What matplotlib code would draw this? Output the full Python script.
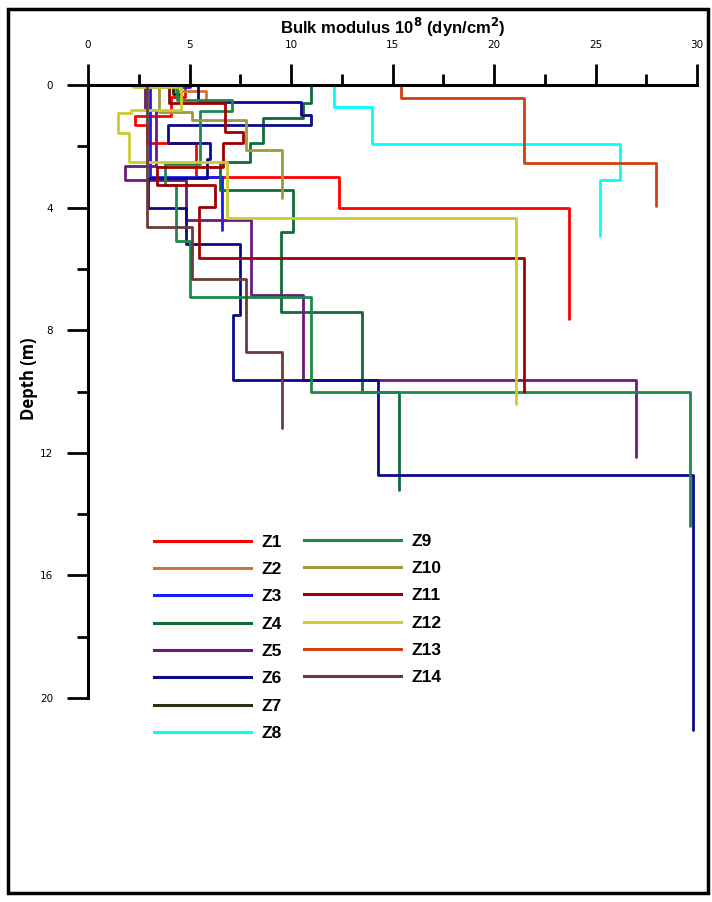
import numpy as np
import matplotlib
matplotlib.use("Agg")
import matplotlib.pyplot as plt
from matplotlib.patches import Rectangle
from matplotlib.lines import Line2D

# layer moduli (10^8 dyn/cm2) and layer boundary depths (m) for each zone
z1_mod = [4.8, 4.1, 2.3, 2.9, 5.3, 12.35, 23.7]
z1_dep = [0, 0.4, 1.0, 1.3, 1.9, 2.99, 4.0, 7.63]
z2_mod = [4.3, 5.8]
z2_dep = [0, 0.2, 0.55]
z3_mod = [5.0, 3.05, 6.58]
z3_dep = [0, 0.05, 3.0, 4.73]
z4_mod = [11.0, 10.6, 8.6, 8.0, 6.5, 10.1, 9.5, 13.5, 15.3]
z4_dep = [0, 0.6, 1.08, 1.9, 2.5, 3.43, 4.79, 7.4, 10.0, 13.2]
z5_mod = [2.8, 3.35, 1.8, 4.85, 8.05, 10.57, 27.0]
z5_dep = [0, 0.8, 2.64, 3.1, 4.4, 6.85, 9.62, 12.13]
z6_mod = [5.4, 10.5, 11.0, 3.95, 6.0, 5.85, 2.95, 4.85, 7.5, 7.15, 14.3, 29.8]
z6_dep = [0, 0.54, 0.98, 1.3, 1.9, 2.4, 3.03, 4.0, 5.2, 7.5, 9.62, 12.72, 21.05]
z7_mod = [4.2, 4.6]
z7_dep = [0, 0.3, 0.5]
z8_mod = [12.1, 14.0, 26.2, 25.2]
z8_dep = [0, 0.72, 1.91, 3.10, 4.93]
z9_mod = [4.4, 7.1, 5.5, 3.8, 4.35, 5.0, 11.0, 29.65]
z9_dep = [0, 0.5, 0.85, 2.58, 3.26, 5.1, 6.9, 10.0, 14.4]
z10_mod = [3.5, 5.1, 7.77, 9.54]
z10_dep = [0, 0.87, 1.14, 2.12, 3.7]
z11_mod = [4.0, 6.75, 7.65, 6.65, 3.4, 6.25, 5.45, 21.5]
z11_dep = [0, 0.6, 1.52, 1.9, 2.67, 3.26, 3.97, 5.63, 10.0]
z12_mod = [2.2, 4.6, 2.1, 1.5, 2.0, 6.83, 21.1]
z12_dep = [0, 0.05, 0.8, 0.92, 1.57, 2.5, 4.33, 10.4]
z13_mod = [1.2, 15.4, 21.5, 28.0]
z13_dep = [0, 0, 0.41, 2.53, 3.94]
z14_mod = [2.9, 5.1, 7.8, 9.54]
z14_dep = [0, 4.62, 6.33, 8.7, 11.2]

names = ["Z1", "Z2", "Z3", "Z4", "Z5", "Z6", "Z7",
         "Z8", "Z9", "Z10", "Z11", "Z12", "Z13", "Z14"]
mods = [z1_mod, z2_mod, z3_mod, z4_mod, z5_mod, z6_mod, z7_mod,
        z8_mod, z9_mod, z10_mod, z11_mod, z12_mod, z13_mod, z14_mod]
deps = [z1_dep, z2_dep, z3_dep, z4_dep, z5_dep, z6_dep, z7_dep,
        z8_dep, z9_dep, z10_dep, z11_dep, z12_dep, z13_dep, z14_dep]
colors = ["#ff0000", "#d2733c", "#1a1aff", "#106b36", "#6a1a7a", "#0a0a8a",
          "#2e2e10", "#00ffff", "#1e874b", "#9c9c3c", "#a00000", "#cccc33",
          "#d04010", "#6b3b3b"]


def profile(mod, dep):
    x = np.repeat(mod, 2)
    y = np.repeat(dep, 2)[1:-1]
    return x, y


fig = plt.figure(figsize=(7.12, 9.02), dpi=100)
W, H = 712, 902
ax = fig.add_axes([88 / W, 1 - 882 / H, 609 / W, 797 / H])

for m, d, c, n in zip(mods, deps, colors, names):
    x, y = profile(m, d)
    ax.plot(x, y, color=c, lw=2.0, label=n, clip_on=False, solid_capstyle="round")

ax.set_xlim(0, 30)
ax.set_ylim(26, 0)
ax.spines["bottom"].set_visible(False)
ax.spines["right"].set_visible(False)
for s in ("top", "left"):
    ax.spines[s].set_linewidth(2.2)
ax.spines["top"].set_bounds(0, 30)
ax.spines["left"].set_bounds(0, 20)

ax.xaxis.tick_top()
ax.set_xticks(np.arange(0, 31, 5))
ax.set_xticks(np.arange(2.5, 30, 5), minor=True)
ax.set_yticks(np.arange(0, 21, 4))
ax.set_yticks(np.arange(2, 20, 4), minor=True)
ax.tick_params(which="major", length=15, width=2, labelsize=7.5, pad=10, colors="black")
ax.tick_params(which="minor", length=8, width=2)

fig.text(393 / W, 1 - 27 / H, r"Bulk modulus 10$^{\mathbf{8}}$ (dyn/cm$^{\mathbf{2}}$)",
         ha="center", va="center", fontsize=12, fontweight="bold", family="Liberation Sans")
fig.text(29 / W, 1 - 379 / H, "Depth (m)", rotation=90, ha="center", va="center",
         fontsize=12, fontweight="bold", family="Open Sans")

handles = [Line2D([], [], color=c, lw=2.2) for c in colors]
leg_font = {"family": "Liberation Sans", "weight": "bold", "size": 12.5}
leg1 = fig.legend(handles[:8], names[:8], loc="upper left",
                  bbox_to_anchor=(138 / W, 1 - 519 / H), frameon=False, prop=leg_font,
                  handlelength=5.6, handletextpad=0.6, labelspacing=0.7)
leg2 = fig.legend(handles[8:], names[8:], loc="upper left",
                  bbox_to_anchor=(288 / W, 1 - 518 / H), frameon=False, prop=leg_font,
                  handlelength=5.6, handletextpad=0.6, labelspacing=0.7)

fig.patches.append(Rectangle((8 / W, 9 / H), 700 / W, 884 / H, transform=fig.transFigure,
                             fill=False, lw=2.5, ec="black"))

fig.savefig("out.png", dpi=100)
